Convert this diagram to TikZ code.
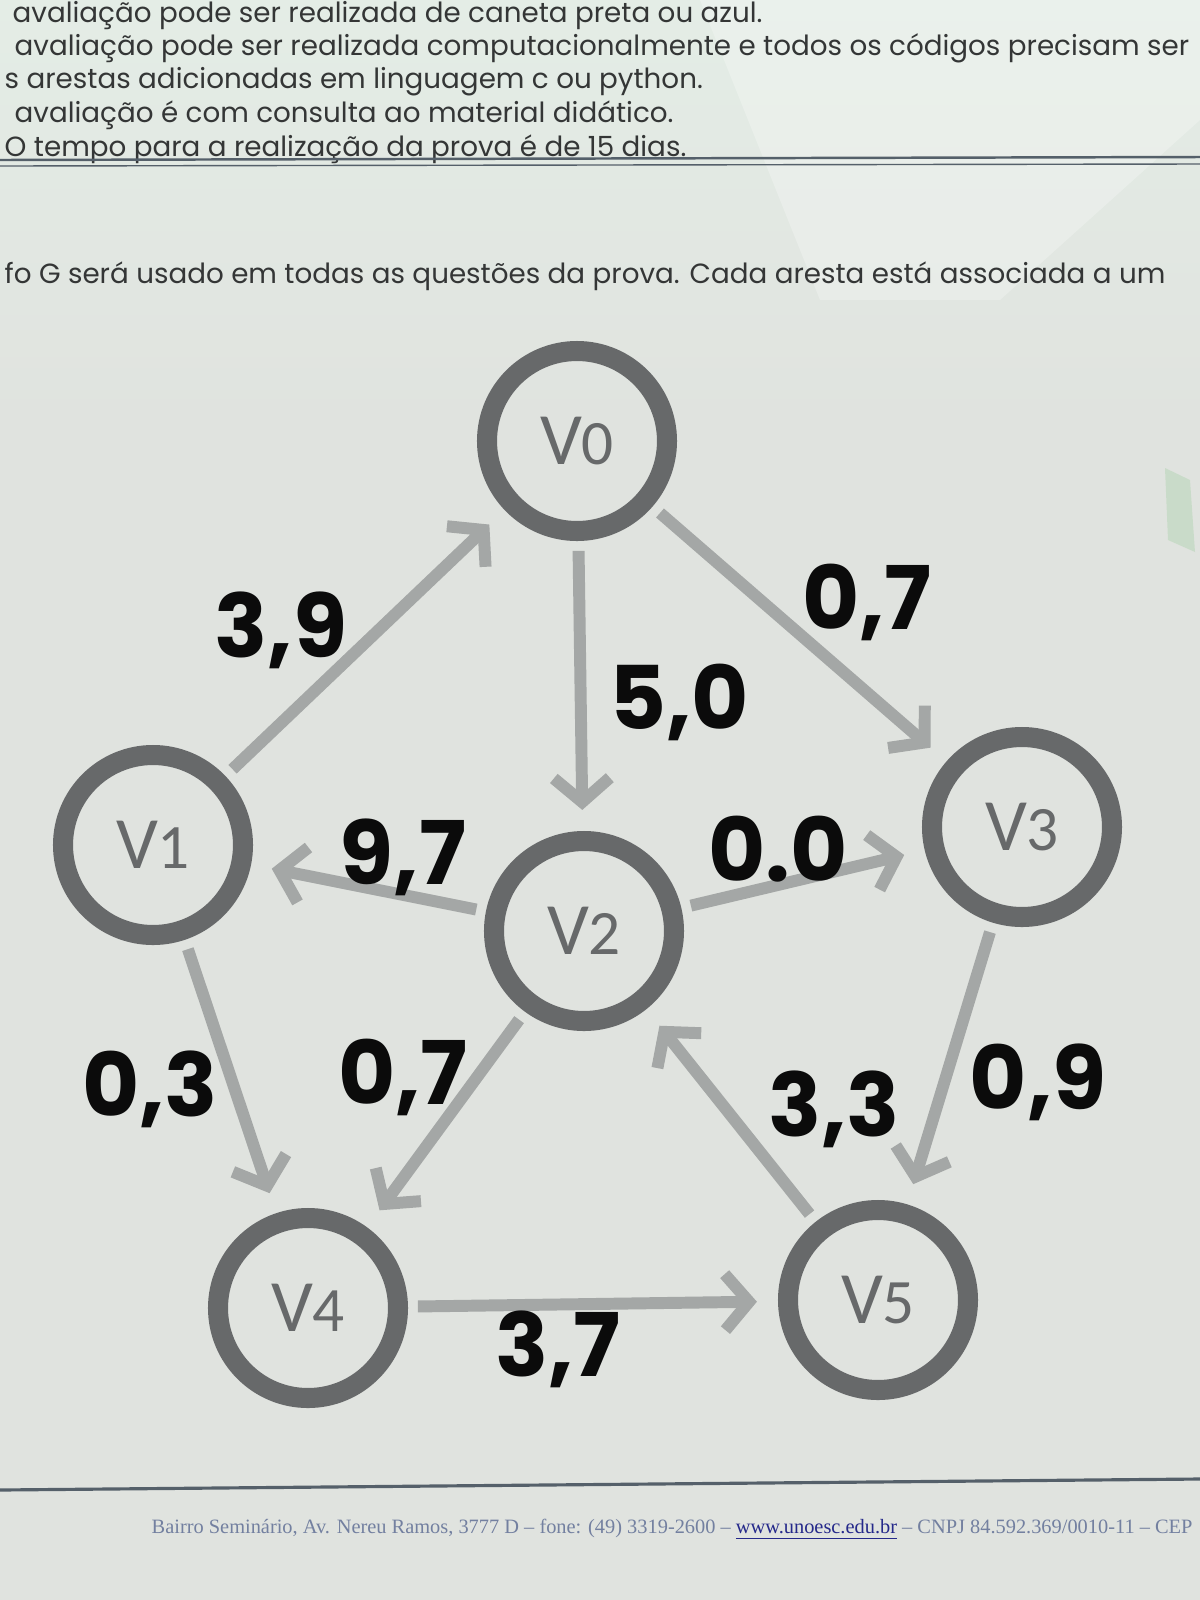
\documentclass[tikz,border=0pt]{standalone}
\usepackage{fontspec}
\setmainfont{Poppins}
\newfontfamily\nodefont{Carlito}
\newfontfamily\footfont{Liberation Serif}
\usetikzlibrary{arrows.meta}

\definecolor{paper}{HTML}{E0E3DF}
\definecolor{palegreen}{HTML}{E4EDE6}
\definecolor{ringgray}{HTML}{67696A}
\definecolor{edgegray}{HTML}{A4A7A6}
\definecolor{inkblack}{HTML}{0B0B0B}
\definecolor{textgray}{HTML}{343636}
\definecolor{footblue}{HTML}{7380A0}
\definecolor{linkblue}{HTML}{25298A}
\definecolor{rulegray}{HTML}{55606A}

\newcommand{\vname}[1]{V{\fontsize{18}{18}\selectfont #1}}

\tikzset{
  vertex/.style={circle, draw=ringgray, line width=5.7pt, minimum size=18mm,
    inner sep=0pt, text=ringgray, font=\nodefont\fontsize{21}{21}\selectfont},
  edge/.style={draw=edgegray, line width=3.4pt,
    -{Straight Barb[length=2.4mm, width=5.6mm]}, shorten <=2.8pt, shorten >=6pt},
  weight/.style={font=\bfseries\fontsize{25}{25}\selectfont, text=inkblack},
  header/.style={anchor=base west, inner sep=0pt, font=\fontsize{7.9}{9}\selectfont, text=textgray},
}

\begin{document}
\begin{tikzpicture}[x=0.1mm, y=-0.1mm]
	\useasboundingbox (0,0) rectangle (1200,1600);
	\clip (0,0) rectangle (1200,1600);
	\fill[paper] (0,0) rectangle (1200,1600);
	% background of the page
	\shade[top color=palegreen, bottom color=paper] (0,0) rectangle (1200,420);
	\fill[white, opacity=0.25] (700,0) -- (1200,0) -- (1200,120) -- (1000,300) -- (820,300) -- cycle;
	\fill[green!40!gray, opacity=0.15] (1165,468) -- (1190,480) -- (1195,552) -- (1168,540) -- cycle;

	% header text
	\node[header] (line1) at (12,22) {avaliação pode ser realizada de caneta preta ou azul.};
	\node[header] (line2) at (14,55) {avaliação pode ser realizada computacionalmente e todos os códigos precisam ser};
	\node[header] (line3) at (4,88) {s arestas adicionadas em linguagem c ou python.};
	\node[header] (line4) at (14,122) {avaliação é com consulta ao material didático.};
	\node[header] (line5) at (4,156) {O tempo para a realização da prova é de 15 dias.};
	\draw[rulegray, line width=0.7pt] (0,160) -- (1200,157);
	\draw[rulegray, line width=0.4pt] (0,166) -- (1200,164);
	\node[header] (intro) at (4,283) {fo G será usado em todas as questões da prova. Cada aresta está associada a um};

	% vertices
	\node[vertex] (v0) at (577,441) {\vname{0}};
	\node[vertex] (v1) at (153,845) {\vname{1}};
	\node[vertex] (v2) at (584,931) {\vname{2}};
	\node[vertex] (v3) at (1022,827) {\vname{3}};
	\node[vertex] (v4) at (308,1308) {\vname{4}};
	\node[vertex] (v5) at (878,1300) {\vname{5}};

	% edges
	\draw[edge] (v1) -- (v0);
	\draw[edge] (v0) -- (v3);
	\draw[edge] (v0) -- (v2);
	\draw[edge] (v2) -- (v1);
	\draw[edge] (v2) -- (v3);
	\draw[edge] (v1) -- (v4);
	\draw[edge] (v2) -- (v4);
	\draw[edge] (v5) -- (v2);
	\draw[edge] (v3) -- (v5);
	\draw[edge] (v4) -- (v5);

	% handwritten weights
	\node[weight] (w10) at (281,630) {3,9};
	\node[weight] (w03) at (867,602) {0,7};
	\node[weight] (w02) at (679,702) {5,0};
	\node[weight] (w21) at (403,857) {9,7};
	\node[weight] (w23) at (778,849) {0.0};
	\node[weight] (w14) at (150,1089) {0,3};
	\node[weight] (w24) at (403,1077) {0,7};
	\node[weight] (w52) at (834,1109) {3,3};
	\node[weight] (w35) at (1038,1082) {0,9};
	\node[weight] (w45) at (558,1349) {3,7};

	% footer
	\draw[rulegray, line width=0.9pt] (0,1490) -- (1200,1479);
	\node[anchor=base west, inner sep=0pt, text=footblue, font=\footfont\fontsize{5.8}{7}\selectfont] (footer) at (151,1533)
		{Bairro Seminário, Av. Nereu Ramos, 3777 D – fone: (49) 3319-2600 – \textcolor{linkblue}{\underline{www.unoesc.edu.br}} – CNPJ 84.592.369/0010-11 – CEP};
\end{tikzpicture}
\end{document}
